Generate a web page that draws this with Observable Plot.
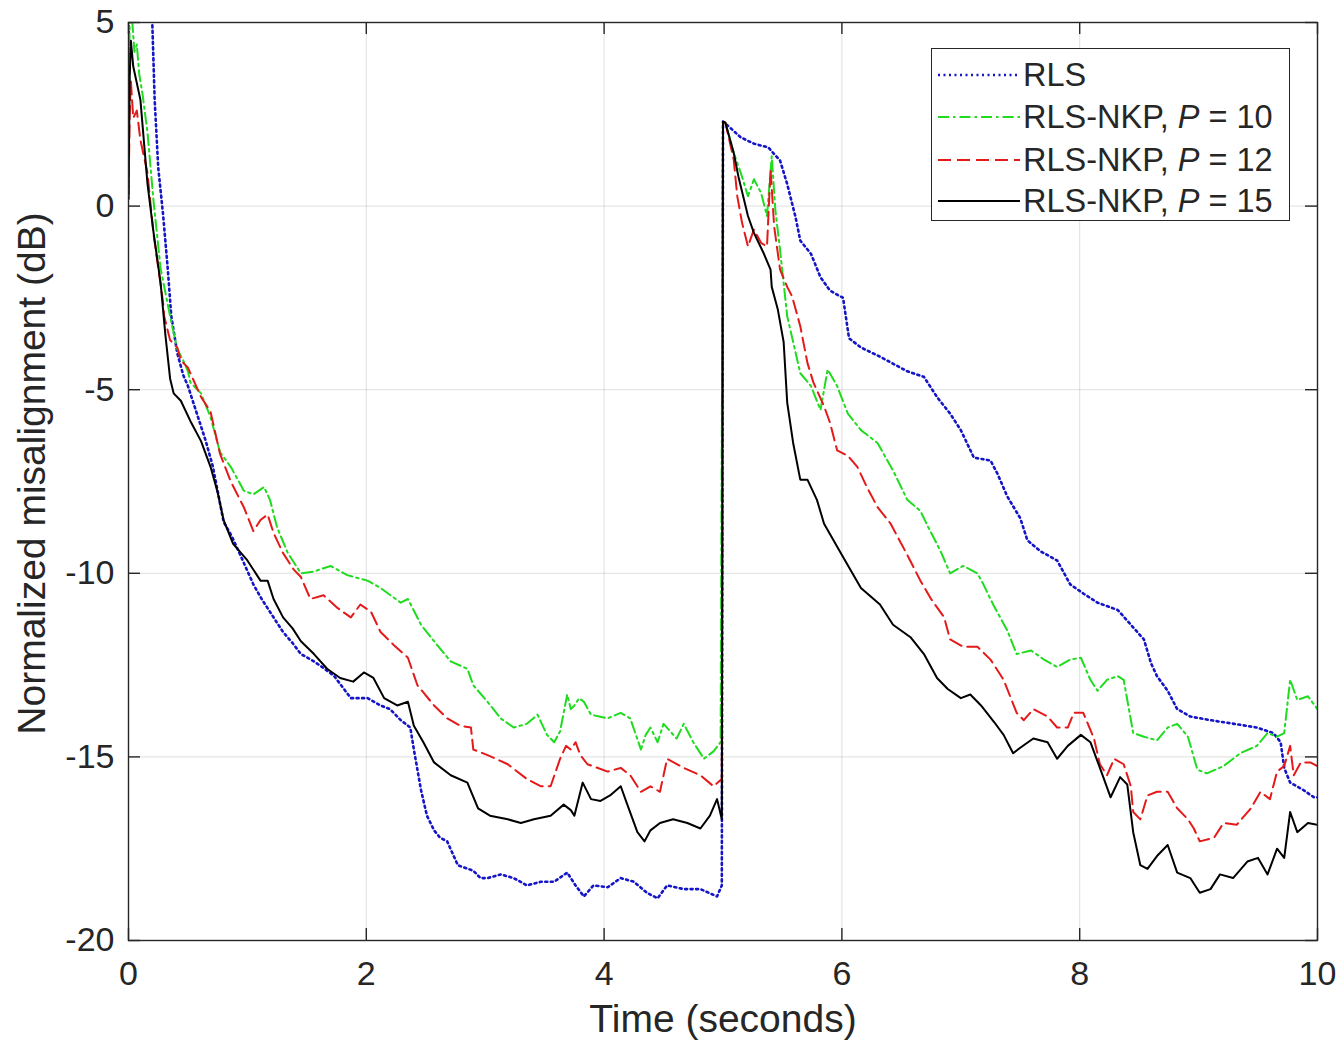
<!DOCTYPE html>
<html>
<head>
<meta charset="utf-8">
<script src="https://cdn.jsdelivr.net/npm/d3@7"></script>
<script src="https://cdn.jsdelivr.net/npm/@observablehq/plot@0.6"></script>
<style>
  html, body { margin: 0; padding: 0; background: #fff; }
  #wrap { position: relative; width: 1341px; height: 1055px; font-family: "Liberation Sans", Arial, sans-serif; }
  #legend { position: absolute; left: 931px; top: 48px; width: 357px; height: 171px; border: 1.5px solid #262626; background: #fff; }
  .row { position: absolute; left: 0; height: 40px; display: flex; align-items: center; }
  .row svg { width: 84px; height: 10px; margin-left: 5px; }
  .row span { font-size: 32.5px; color: #262626; margin-left: 2px; white-space: nowrap; }
</style>
</head>
<body>
<div id="wrap"></div>
<script>
// ---- data (time in seconds, misalignment in dB) ----
const seriesNames = ["RLS", "RLS-NKP, P = 10", "RLS-NKP, P = 12", "RLS-NKP, P = 15"];
const seriesColors = ["#1414c8", "#1fdc1f", "#e41a1a", "#000000"];
const seriesDash = ["2,3.5", "11,4,2.5,4", "13,6", "none"];

const xTicks = [0, 2, 4, 6, 8, 10];
const yTicks = [-20, -15, -10, -5, 0, 5];

const rlsTime = [0, 0.004, 0.19, 0.2, 0.22, 0.25, 0.29, 0.33, 0.36, 0.41, 0.46, 0.5, 0.58, 0.65, 0.71, 0.8, 0.87, 0.94, 1.05, 1.12, 1.2, 1.3, 1.38, 1.45, 1.56, 1.65, 1.73, 1.8, 1.87, 2.01, 2.12, 2.2, 2.29, 2.37, 2.40, 2.46, 2.51, 2.57, 2.62, 2.68, 2.77, 2.9, 2.96, 3.02, 3.13, 3.24, 3.35, 3.47, 3.58, 3.69, 3.76, 3.83, 3.91, 4.03, 4.14, 4.25, 4.36, 4.45, 4.53, 4.67, 4.81, 4.95, 4.99,
  5.0, 5.02, 5.15, 5.26, 5.38, 5.48, 5.54, 5.61, 5.65, 5.74, 5.82, 5.90, 6.01, 6.06, 6.16, 6.32, 6.55, 6.69, 6.80, 6.91, 7.0, 7.11, 7.25, 7.31, 7.39, 7.50, 7.56, 7.67, 7.81, 7.92, 8.03, 8.15, 8.32, 8.43, 8.54, 8.60, 8.65, 8.74, 8.82, 8.93, 9.10, 9.30, 9.49, 9.63, 9.69, 9.72, 9.77, 9.88, 9.97, 10];
const rlsDb = [0.2, 9, 9, 5.0, 2.9, 1.05, -0.2, -1.7, -3.0, -4.0, -4.6, -4.9, -5.7, -6.4, -7.1, -8.6, -9.0, -9.5, -10.3, -10.7, -11.1, -11.6, -11.9, -12.2, -12.4, -12.6, -12.8, -13.1, -13.4, -13.4, -13.6, -13.7, -14.0, -14.2, -14.8, -15.9, -16.6, -17.0, -17.2, -17.3, -17.95, -18.1, -18.3, -18.3, -18.2, -18.3, -18.5, -18.4, -18.4, -18.15, -18.5, -18.8, -18.5, -18.55, -18.3, -18.4, -18.7, -18.85, -18.5, -18.6, -18.6, -18.8, -18.5,
  2.3, 2.25, 1.87, 1.7, 1.6, 1.24, 0.6, -0.3, -0.94, -1.3, -1.94, -2.3, -2.5, -3.6, -3.85, -4.1, -4.5, -4.65, -5.2, -5.65, -6.1, -6.85, -6.93, -7.3, -7.9, -8.5, -9.1, -9.4, -9.65, -10.3, -10.55, -10.8, -11.0, -11.4, -11.8, -12.45, -12.8, -13.2, -13.7, -13.9, -14.0, -14.1, -14.2, -14.35, -14.6, -15.3, -15.7, -15.9, -16.1, -16.1];

const p10Time = [0, 0.01, 0.03, 0.05, 0.07, 0.09, 0.12, 0.16, 0.21, 0.27, 0.35, 0.41, 0.46, 0.5, 0.52, 0.61, 0.69, 0.77, 0.86, 0.97, 1.05, 1.14, 1.19, 1.25, 1.34, 1.45, 1.56, 1.70, 1.84, 1.95, 2.01, 2.12, 2.29, 2.35, 2.46, 2.57, 2.71, 2.85, 2.90, 3.02, 3.13, 3.24, 3.35, 3.44, 3.52, 3.58, 3.63, 3.69, 3.72, 3.75, 3.79, 3.83, 3.89, 3.96, 4.03, 4.14, 4.22, 4.31, 4.35, 4.39, 4.45, 4.50, 4.61, 4.67, 4.75, 4.84, 4.92, 4.98,
  5.0, 5.02, 5.09, 5.15, 5.21, 5.26, 5.32, 5.37, 5.41, 5.44, 5.48, 5.51, 5.54, 5.59, 5.65, 5.74, 5.82, 5.88, 5.96, 6.05, 6.16, 6.30, 6.43, 6.55, 6.66, 6.72, 6.83, 6.91, 7.02, 7.14, 7.19, 7.28, 7.39, 7.47, 7.59, 7.70, 7.81, 7.92, 8.01, 8.09, 8.15, 8.23, 8.32, 8.37, 8.45, 8.54, 8.65, 8.74, 8.82, 8.91, 8.99, 9.07, 9.21, 9.35, 9.49, 9.58, 9.66, 9.72, 9.77, 9.83, 9.92, 10];
const p10Db = [0.3, 5.3, 5.1, 4.2, 4.4, 3.6, 3.0, 2.0, 0.15, -1.7, -3.0, -3.9, -4.2, -4.5, -4.8, -5.1, -5.75, -6.7, -7.1, -7.75, -7.85, -7.65, -8.0, -8.75, -9.45, -10.0, -9.95, -9.8, -10.05, -10.15, -10.2, -10.4, -10.8, -10.7, -11.4, -11.85, -12.4, -12.6, -13.05, -13.5, -13.95, -14.2, -14.1, -13.85, -14.4, -14.6, -14.3, -13.3, -13.7, -13.6, -13.4, -13.5, -13.85, -13.9, -13.95, -13.8, -13.95, -14.8, -14.4, -14.2, -14.6, -14.1, -14.5, -14.1, -14.6, -15.05, -14.85, -14.6,
  2.3, 2.27, 1.45, 0.9, 0.27, 0.73, 0.36, -0.27, 1.36, -0.1, -1.2, -2.1, -3.0, -3.7, -4.55, -4.9, -5.55, -4.45, -4.9, -5.65, -6.1, -6.45, -7.2, -8.0, -8.3, -8.7, -9.4, -10.0, -9.8, -10.0, -10.3, -10.9, -11.55, -12.2, -12.1, -12.35, -12.55, -12.35, -12.3, -12.9, -13.2, -12.9, -12.8, -12.9, -14.35, -14.45, -14.55, -14.2, -14.1, -14.45, -15.35, -15.45, -15.25, -14.9, -14.7, -14.35, -14.45, -14.35, -12.9, -13.45, -13.35, -13.7];

const p12Time = [0, 0.01, 0.02, 0.04, 0.07, 0.1, 0.16, 0.21, 0.29, 0.3, 0.35, 0.41, 0.44, 0.5, 0.61, 0.69, 0.77, 0.86, 0.97, 1.05, 1.11, 1.17, 1.22, 1.30, 1.39, 1.45, 1.53, 1.64, 1.76, 1.87, 1.95, 2.04, 2.12, 2.23, 2.35, 2.43, 2.57, 2.68, 2.79, 2.88, 2.90, 3.02, 3.19, 3.35, 3.47, 3.55, 3.63, 3.68, 3.72, 3.76, 3.80, 3.86, 4.03, 4.14, 4.22, 4.31, 4.39, 4.47, 4.53, 4.67, 4.81, 4.92, 4.99,
  5.0, 5.02, 5.09, 5.12, 5.16, 5.21, 5.26, 5.32, 5.37, 5.40, 5.43, 5.48, 5.54, 5.58, 5.65, 5.71, 5.76, 5.85, 5.90, 5.96, 6.05, 6.13, 6.21, 6.30, 6.41, 6.55, 6.66, 6.75, 6.86, 6.91, 7.02, 7.14, 7.25, 7.36, 7.47, 7.53, 7.61, 7.73, 7.81, 7.90, 7.95, 8.03, 8.12, 8.17, 8.23, 8.29, 8.37, 8.43, 8.45, 8.51, 8.57, 8.65, 8.74, 8.82, 8.91, 8.96, 9.01, 9.13, 9.21, 9.32, 9.44, 9.52, 9.60, 9.66, 9.72, 9.77, 9.80, 9.86, 9.94, 10];
const p12Db = [0.3, 2.5, 3.4, 2.4, 2.6, 1.8, 0.9, -0.75, -2.6, -3.0, -3.65, -3.85, -4.2, -4.4, -5.2, -5.6, -6.75, -7.5, -8.2, -8.85, -8.55, -8.4, -8.9, -9.45, -9.9, -10.1, -10.7, -10.6, -10.95, -11.2, -10.85, -11.05, -11.6, -11.95, -12.3, -13.05, -13.6, -13.95, -14.15, -14.2, -14.8, -14.95, -15.2, -15.6, -15.8, -15.8, -15.05, -14.7, -14.8, -14.6, -14.95, -15.2, -15.4, -15.3, -15.5, -15.95, -15.8, -15.95, -15.05, -15.3, -15.5, -15.8, -15.6,
  2.3, 2.27, 1.27, 0.27, -0.45, -1.1, -0.64, -1.0, -1.1, 1.0, -0.55, -1.73, -2.2, -2.45, -3.27, -4.27, -4.8, -5.45, -5.9, -6.65, -6.8, -7.1, -7.65, -8.2, -8.65, -9.5, -10.2, -10.7, -11.2, -11.8, -12.0, -12.0, -12.35, -12.9, -13.8, -14.0, -13.7, -13.9, -14.2, -14.2, -13.8, -13.8, -14.5, -15.2, -15.5, -15.05, -15.2, -15.8, -16.5, -16.7, -16.05, -15.95, -15.95, -16.4, -16.7, -16.95, -17.3, -17.2, -16.8, -16.85, -16.4, -15.95, -16.15, -15.4, -15.25, -14.7, -15.5, -15.15, -15.15, -15.25];

const p15Time = [0, 0.01, 0.02, 0.04, 0.1, 0.16, 0.21, 0.27, 0.31, 0.35, 0.38, 0.44, 0.52, 0.61, 0.69, 0.75, 0.80, 0.88, 1.0, 1.11, 1.17, 1.22, 1.30, 1.38, 1.45, 1.56, 1.67, 1.78, 1.89, 1.98, 2.06, 2.15, 2.26, 2.35, 2.40, 2.48, 2.57, 2.71, 2.85, 2.94, 3.04, 3.19, 3.30, 3.41, 3.55, 3.66, 3.72, 3.75, 3.82, 3.89, 3.97, 4.05, 4.14, 4.19, 4.28, 4.34, 4.39, 4.47, 4.58, 4.70, 4.81, 4.89, 4.95, 4.99,
  5.0, 5.02, 5.09, 5.13, 5.21, 5.26, 5.34, 5.40, 5.41, 5.46, 5.51, 5.54, 5.59, 5.65, 5.71, 5.79, 5.85, 6.0, 6.16, 6.32, 6.43, 6.58, 6.69, 6.80, 6.89, 7.0, 7.08, 7.17, 7.28, 7.36, 7.44, 7.50, 7.61, 7.73, 7.81, 7.90, 8.01, 8.09, 8.17, 8.26, 8.34, 8.40, 8.45, 8.51, 8.57, 8.65, 8.74, 8.82, 8.93, 9.01, 9.10, 9.18, 9.29, 9.41, 9.50, 9.58, 9.66, 9.72, 9.77, 9.83, 9.92, 10];
const p15Db = [0.3, 3.5, 4.5, 3.8, 2.9, 0.6, -0.7, -2.1, -3.5, -4.7, -5.1, -5.3, -5.85, -6.4, -7.1, -7.8, -8.55, -9.2, -9.65, -10.2, -10.2, -10.7, -11.2, -11.5, -11.85, -12.2, -12.6, -12.85, -12.95, -12.7, -12.85, -13.4, -13.6, -13.5, -14.15, -14.6, -15.15, -15.5, -15.7, -16.4, -16.6, -16.7, -16.8, -16.7, -16.6, -16.3, -16.45, -16.6, -15.7, -16.15, -16.2, -16.05, -15.8, -16.25, -17.05, -17.3, -17.0, -16.8, -16.7, -16.8, -16.95, -16.6, -16.15, -16.7,
  2.3, 2.27, 1.45, 0.8, -0.27, -0.73, -1.27, -1.73, -2.2, -2.8, -3.7, -5.35, -6.45, -7.45, -7.45, -8.0, -8.65, -9.5, -10.4, -10.85, -11.4, -11.75, -12.2, -12.85, -13.15, -13.4, -13.3, -13.6, -14.05, -14.4, -14.9, -14.75, -14.5, -14.6, -15.05, -14.7, -14.4, -14.6, -15.3, -16.1, -15.55, -15.75, -17.05, -17.95, -18.05, -17.7, -17.4, -18.15, -18.3, -18.7, -18.6, -18.2, -18.3, -17.85, -17.75, -18.2, -17.5, -17.75, -16.5, -17.05, -16.8, -16.85];

// ---- build rows ----
const seriesTimes = [rlsTime, p10Time, p12Time, p15Time];
const seriesValues = [rlsDb, p10Db, p12Db, p15Db];
const rows = seriesNames.map((name, i) =>
  seriesTimes[i].map((t, j) => ({series: name, t, db: seriesValues[i][j]})));

const lineMarks = [0, 1, 2, 3].map(i =>
  Plot.line(rows[i], {
    x: "t", y: "db", stroke: seriesColors[i], strokeWidth: i === 0 ? 2.6 : 2,
    strokeDasharray: seriesDash[i], clip: true, curve: "linear"
  }));

const fmt = d => String(d);

const chart = Plot.plot({
  width: 1341, height: 1055,
  marginLeft: 128, marginRight: 24, marginTop: 22, marginBottom: 115,
  x: {domain: [0, 10]},
  y: {domain: [-20, 5]},
  style: {fontFamily: "'Liberation Sans', Arial, sans-serif", color: "#262626", background: "white", overflow: "visible"},
  marks: [
    Plot.gridX(xTicks, {stroke: "#000", strokeOpacity: 0.13, strokeWidth: 1}),
    Plot.gridY(yTicks, {stroke: "#000", strokeOpacity: 0.13, strokeWidth: 1}),
    ...lineMarks,
    Plot.frame({stroke: "#262626", strokeWidth: 1.4}),
    Plot.tickX(xTicks, {x: d => d, insetTop: 906, stroke: "#262626", strokeWidth: 1.4}),
    Plot.tickX(xTicks, {x: d => d, insetBottom: 906, stroke: "#262626", strokeWidth: 1.4}),
    Plot.tickY(yTicks, {y: d => d, insetRight: 1177, stroke: "#262626", strokeWidth: 1.4}),
    Plot.tickY(yTicks, {y: d => d, insetLeft: 1177, stroke: "#262626", strokeWidth: 1.4}),
    Plot.axisX(xTicks, {tickSize: 0, tickPadding: 20, fontSize: 34, label: null, fill: "#262626", tickFormat: fmt}),
    Plot.axisY(yTicks, {tickSize: 0, tickPadding: 14, fontSize: 34, label: null, fill: "#262626", tickFormat: fmt}),
    Plot.text(["Time (seconds)"], {text: d => d, frameAnchor: "bottom", textAnchor: "middle", dy: 91, fontSize: 39, fill: "#262626"}),
    Plot.text(["Normalized misalignment (dB)"], {text: d => d, frameAnchor: "left", textAnchor: "middle", dx: -96, dy: -8, rotate: -90, fontSize: 39, fill: "#262626"})
  ]
});

const wrap = document.getElementById("wrap");
wrap.appendChild(chart);

// ---- legend ----
const legend = document.createElement("div");
legend.id = "legend";
const rowTops = [6, 48, 91, 132];
seriesNames.forEach((name, i) => {
  const r = document.createElement("div");
  r.className = "row";
  r.style.top = rowTops[i] + "px";
  const label = name.replace(/P = /, "<i>P</i> = ");
  r.innerHTML = `<svg viewBox="0 0 84 10"><line x1="1" y1="5" x2="83" y2="5" stroke="${seriesColors[i]}" stroke-width="${i === 0 ? 2.6 : 2}" stroke-dasharray="${seriesDash[i]}"/></svg><span>${label}</span>`;
  legend.appendChild(r);
});
wrap.appendChild(legend);
</script>
</body>
</html>
